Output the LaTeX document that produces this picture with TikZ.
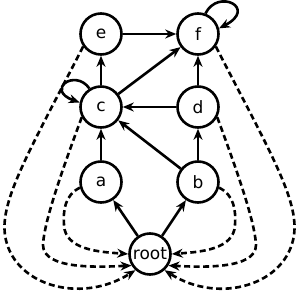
\documentclass[tikz,border=0pt]{standalone}
\usepackage{fontspec}
\setmainfont{DejaVu Sans}
\usetikzlibrary{arrows.meta}
\begin{document}
\begin{tikzpicture}[x=1pt,y=-1pt,
  vert/.style={circle,draw,line width=2.6pt,minimum size=41pt,inner sep=0pt,font=\fontsize{17}{19}\selectfont},
  edge/.style={line width=2.6pt,-{Stealth[length=11pt,width=9pt,inset=3.5pt]}},
  back/.style={edge,dash pattern=on 6pt off 3.5pt}]
\useasboundingbox (0,0) rectangle (298,298);
\node[vert] (e) at (101,34) {e};
\node[vert] (f) at (198,34) {f};
\node[vert] (c) at (101,107) {c};
\node[vert] (d) at (198,107) {d};
\node[vert] (a) at (101,182) {a};
\node[vert] (b) at (198,182) {b};
\node[vert] (root) at (150,254) {root};
% solid edges
\draw[edge] (e) -- (f);
\draw[edge] (c) -- (e);
\draw[edge] (c) -- (f);
\draw[edge] (d) -- (c);
\draw[edge] (d) -- (f);
\draw[edge] (b) -- (c);
\draw[edge] (b) -- (d);
\draw[edge] (a) -- (c);
\draw[edge] (root) -- (a);
\draw[edge] (root) -- (b);
\draw[edge] (f.70) .. controls (218,-12) and (258,8) .. (f.15);
\draw[edge] (c.122) .. controls (75,68) and (45,90) .. (c.168);
% dashed edges to root
\draw[back] (e.215) .. controls (30,150) and (0,200) .. (5,235) .. controls (12,285) and (80,305) .. (root.228);
\draw[back] (f.325) .. controls (269,150) and (299,200) .. (294,235) .. controls (287,285) and (219,305) .. (root.312);
\draw[back] (c.208) .. controls (66,160) and (44,220) .. (43,245) .. controls (43,270) and (100,267) .. (root.212);
\draw[back] (d.332) .. controls (233,160) and (255,220) .. (256,245) .. controls (256,270) and (199,267) .. (root.328);
\draw[back] (a.195) .. controls (65,195) and (63,210) .. (64,225) .. controls (65,250) and (100,252) .. (root.180);
\draw[back] (b.345) .. controls (234,195) and (236,210) .. (235,225) .. controls (234,250) and (199,252) .. (root.0);
\end{tikzpicture}
\end{document}
